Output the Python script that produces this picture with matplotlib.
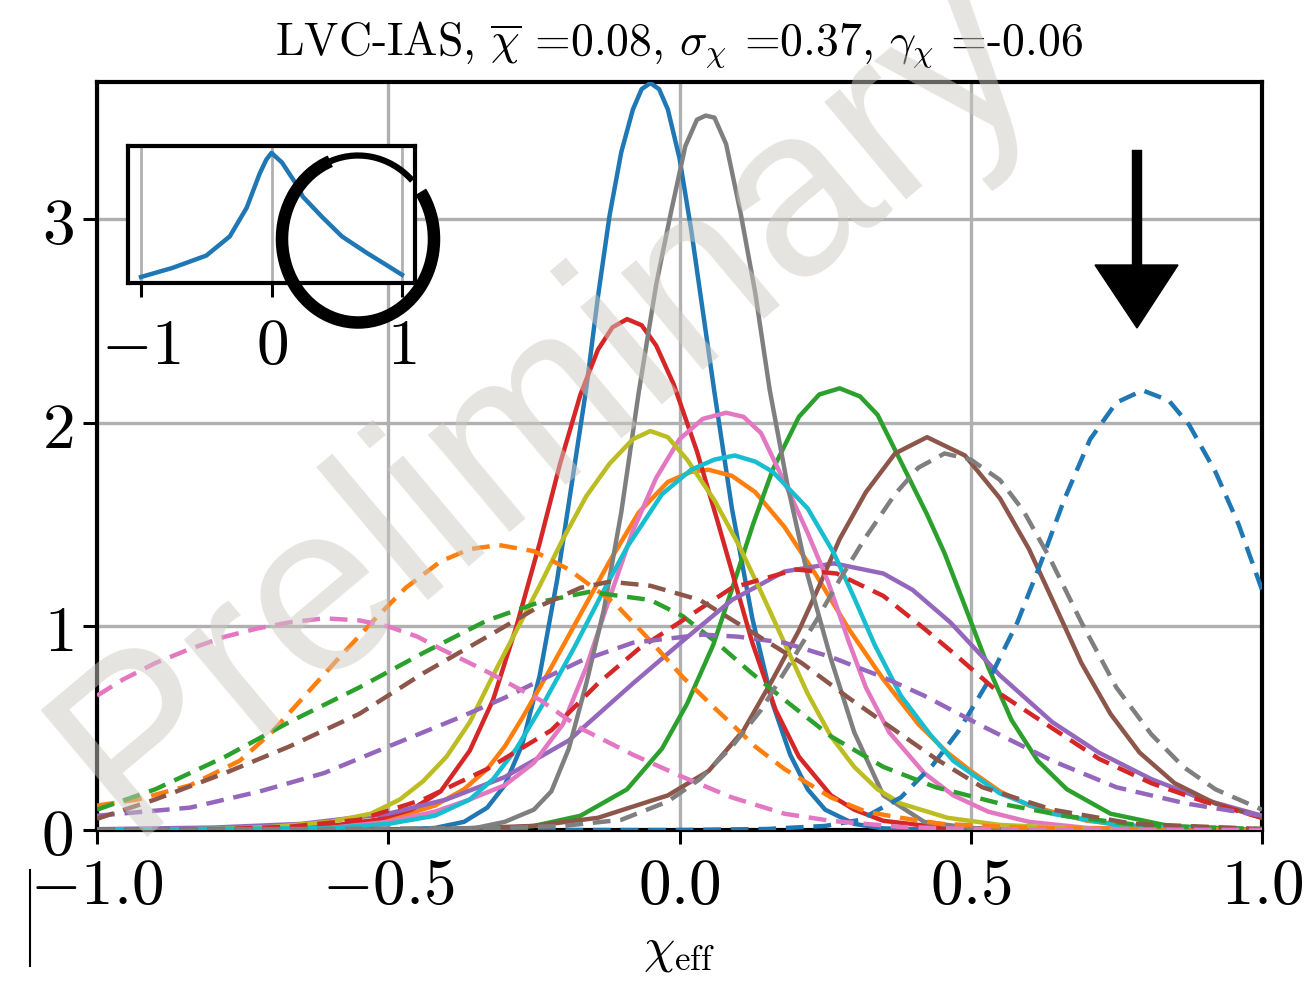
import numpy as np
import matplotlib
matplotlib.use('Agg')
import matplotlib.pyplot as plt
from matplotlib.patches import Arc, Polygon
from matplotlib.lines import Line2D

matplotlib.rcParams['mathtext.fontset'] = 'cm'

W, H = 1310, 986

# ---- curves: (chi_eff, density) ----
blue_solid = [(-1.0, 0.0), (-0.5, 0.0), (-0.42, 0.01), (-0.37, 0.04), (-0.33, 0.11), (-0.3, 0.22),
              (-0.27, 0.42), (-0.24, 0.76), (-0.21, 1.23), (-0.185, 1.7), (-0.16, 2.17), (-0.14, 2.62),
              (-0.12, 3.02), (-0.1, 3.33), (-0.08, 3.54), (-0.065, 3.64), (-0.05, 3.67), (-0.035, 3.64),
              (-0.02, 3.54), (0.0, 3.3), (0.02, 2.95), (0.04, 2.55), (0.06, 2.15), (0.09, 1.58),
              (0.125, 1.04), (0.16, 0.62), (0.19, 0.37), (0.22, 0.2), (0.25, 0.1), (0.3, 0.03),
              (0.35, 0.008), (0.45, 0.0), (1.0, 0.0)]
orange_solid = [(-1.0, 0.0), (-0.7, 0.004), (-0.6, 0.015), (-0.5, 0.05), (-0.42, 0.12), (-0.37, 0.2),
                (-0.33, 0.3), (-0.3, 0.41), (-0.27, 0.55), (-0.22, 0.8), (-0.17, 1.06), (-0.12, 1.32),
                (-0.07, 1.56), (-0.02, 1.71), (0.02, 1.76), (0.05, 1.77), (0.09, 1.74), (0.13, 1.66),
                (0.18, 1.49), (0.235, 1.25), (0.29, 0.99), (0.35, 0.74), (0.41, 0.52), (0.46, 0.38),
                (0.5, 0.29), (0.55, 0.19), (0.6, 0.12), (0.7, 0.045), (0.8, 0.015), (1.0, 0.0)]
green_solid = [(-1.0, 0.0), (-0.4, 0.003), (-0.3, 0.01), (-0.25, 0.02), (-0.17, 0.07), (-0.09, 0.2),
               (-0.03, 0.4), (0.013, 0.62), (0.058, 0.91), (0.092, 1.2), (0.126, 1.5), (0.16, 1.77),
               (0.205, 2.03), (0.24, 2.14), (0.275, 2.17), (0.31, 2.13), (0.34, 2.04), (0.38, 1.81),
               (0.425, 1.55), (0.455, 1.36), (0.49, 1.1), (0.53, 0.8), (0.57, 0.54), (0.615, 0.34),
               (0.665, 0.2), (0.74, 0.08), (0.84, 0.02), (1.0, 0.0)]
red_solid = [(-1.0, 0.0), (-0.7, 0.005), (-0.6, 0.02), (-0.52, 0.05), (-0.46, 0.1), (-0.41, 0.19),
             (-0.36, 0.39), (-0.32, 0.64), (-0.28, 1.0), (-0.24, 1.41), (-0.205, 1.8), (-0.17, 2.14),
             (-0.14, 2.36), (-0.115, 2.47), (-0.09, 2.51), (-0.065, 2.48), (-0.04, 2.38), (-0.01, 2.19),
             (0.03, 1.86), (0.065, 1.52), (0.09, 1.27), (0.125, 0.92), (0.165, 0.59), (0.205, 0.36),
             (0.26, 0.17), (0.3, 0.1), (0.35, 0.045), (0.45, 0.012), (0.6, 0.002), (1.0, 0.0)]
purple_solid = [(-1.0, 0.004), (-0.8, 0.012), (-0.65, 0.03), (-0.5, 0.08), (-0.4, 0.15), (-0.3, 0.26),
                (-0.19, 0.44), (-0.08, 0.72), (0.006, 0.93), (0.09, 1.13), (0.18, 1.27), (0.265, 1.31),
                (0.35, 1.26), (0.4, 1.18), (0.465, 1.02), (0.55, 0.76), (0.64, 0.53), (0.72, 0.38),
                (0.81, 0.25), (0.9, 0.15), (1.0, 0.07)]
brown_solid = [(-1.0, 0.0), (-0.4, 0.005), (-0.25, 0.02), (-0.14, 0.06), (-0.02, 0.17), (0.05, 0.29),
               (0.11, 0.49), (0.16, 0.74), (0.205, 0.98), (0.24, 1.2), (0.275, 1.43), (0.32, 1.66),
               (0.37, 1.85), (0.425, 1.93), (0.49, 1.84), (0.55, 1.63), (0.6, 1.38), (0.65, 1.07),
               (0.69, 0.82), (0.74, 0.57), (0.79, 0.38), (0.85, 0.23), (0.92, 0.13), (1.0, 0.06)]
pink_solid = [(-1.0, 0.0), (-0.7, 0.003), (-0.6, 0.01), (-0.5, 0.04), (-0.42, 0.09), (-0.36, 0.15),
              (-0.3, 0.22), (-0.25, 0.33), (-0.2, 0.52), (-0.16, 0.8), (-0.12, 1.14), (-0.08, 1.47),
              (-0.04, 1.73), (0.0, 1.92), (0.04, 2.02), (0.08, 2.05), (0.11, 2.03), (0.14, 1.95),
              (0.18, 1.71), (0.22, 1.46), (0.255, 1.22), (0.29, 0.93), (0.32, 0.7), (0.36, 0.48),
              (0.42, 0.28), (0.47, 0.17), (0.53, 0.09), (0.6, 0.04), (0.7, 0.01), (1.0, 0.0)]
gray_solid = [(-1.0, 0.0), (-0.45, 0.0), (-0.35, 0.01), (-0.3, 0.04), (-0.25, 0.1), (-0.22, 0.19),
              (-0.19, 0.4), (-0.16, 0.72), (-0.13, 1.08), (-0.1, 1.56), (-0.07, 2.15), (-0.04, 2.68),
              (-0.015, 3.03), (0.01, 3.36), (0.03, 3.49), (0.045, 3.51), (0.06, 3.5), (0.08, 3.37),
              (0.105, 3.03), (0.13, 2.64), (0.155, 2.16), (0.185, 1.7), (0.22, 1.25), (0.26, 0.84),
              (0.3, 0.48), (0.35, 0.17), (0.42, 0.04), (0.5, 0.01), (0.6, 0.0), (1.0, 0.0)]
olive_solid = [(-1.0, 0.0), (-0.8, 0.005), (-0.7, 0.015), (-0.6, 0.04), (-0.53, 0.08), (-0.48, 0.15),
               (-0.44, 0.24), (-0.4, 0.36), (-0.36, 0.53), (-0.32, 0.76), (-0.28, 0.98), (-0.24, 1.2),
               (-0.2, 1.43), (-0.16, 1.64), (-0.12, 1.8), (-0.08, 1.92), (-0.05, 1.96), (-0.02, 1.93),
               (0.013, 1.82), (0.06, 1.62), (0.1, 1.41), (0.14, 1.17), (0.18, 0.92), (0.22, 0.67),
               (0.26, 0.46), (0.3, 0.31), (0.34, 0.2), (0.38, 0.13), (0.46, 0.06), (0.55, 0.025),
               (0.7, 0.005), (1.0, 0.0)]
cyan_solid = [(-1.0, 0.0), (-0.6, 0.01), (-0.5, 0.03), (-0.42, 0.07), (-0.36, 0.15), (-0.32, 0.25),
              (-0.28, 0.4), (-0.23, 0.64), (-0.18, 0.9), (-0.135, 1.15), (-0.09, 1.39), (-0.03, 1.65),
              (0.02, 1.77), (0.06, 1.82), (0.095, 1.84), (0.13, 1.81), (0.16, 1.76), (0.22, 1.58),
              (0.265, 1.36), (0.3, 1.14), (0.335, 0.91), (0.38, 0.66), (0.43, 0.47), (0.47, 0.34),
              (0.55, 0.18), (0.64, 0.08), (0.75, 0.025), (0.9, 0.005), (1.0, 0.0)]

blue_dashed = [(-1.0, 0.0), (0.0, 0.0), (0.15, 0.005), (0.25, 0.02), (0.31, 0.05), (0.38, 0.16),
               (0.435, 0.32), (0.48, 0.49), (0.53, 0.73), (0.58, 1.02), (0.62, 1.31), (0.66, 1.62),
               (0.705, 1.92), (0.75, 2.1), (0.795, 2.16), (0.84, 2.11), (0.875, 1.99), (0.92, 1.76),
               (0.96, 1.5), (1.0, 1.18)]
orange_dashed = [(-1.0, 0.12), (-0.93, 0.15), (-0.84, 0.22), (-0.755, 0.34), (-0.7, 0.48), (-0.64, 0.67),
                 (-0.58, 0.86), (-0.525, 1.03), (-0.47, 1.19), (-0.41, 1.32), (-0.36, 1.38), (-0.31, 1.4),
                 (-0.25, 1.37), (-0.19, 1.28), (-0.11, 1.11), (-0.05, 0.93), (0.006, 0.75), (0.06, 0.6),
                 (0.09, 0.52), (0.13, 0.41), (0.18, 0.3), (0.26, 0.16), (0.32, 0.09), (0.38, 0.06),
                 (0.45, 0.03), (0.6, 0.01), (1.0, 0.0)]
green_dashed = [(-1.0, 0.1), (-0.9, 0.2), (-0.78, 0.36), (-0.67, 0.53), (-0.55, 0.7), (-0.44, 0.87),
                (-0.33, 1.03), (-0.24, 1.12), (-0.155, 1.17), (-0.05, 1.13), (0.006, 1.05), (0.064, 0.92),
                (0.12, 0.78), (0.18, 0.64), (0.26, 0.46), (0.35, 0.31), (0.44, 0.21), (0.55, 0.13),
                (0.66, 0.07), (0.8, 0.02), (1.0, 0.005)]
red_dashed = [(-1.0, 0.0), (-0.8, 0.003), (-0.67, 0.016), (-0.55, 0.05), (-0.44, 0.15), (-0.33, 0.3),
              (-0.22, 0.49), (-0.14, 0.72), (-0.07, 0.89), (0.0, 1.02), (0.09, 1.19), (0.2, 1.28),
              (0.27, 1.26), (0.35, 1.15), (0.42, 0.99), (0.47, 0.87), (0.55, 0.67), (0.64, 0.5),
              (0.72, 0.35), (0.81, 0.23), (0.9, 0.14), (1.0, 0.06)]
purple_dashed = [(-1.0, 0.07), (-0.84, 0.11), (-0.72, 0.19), (-0.61, 0.28), (-0.5, 0.41), (-0.38, 0.55),
                 (-0.3, 0.65), (-0.25, 0.72), (-0.17, 0.83), (-0.08, 0.92), (0.04, 0.96), (0.1, 0.95),
                 (0.18, 0.92), (0.26, 0.85), (0.35, 0.75), (0.42, 0.66), (0.52, 0.51), (0.64, 0.34),
                 (0.75, 0.21), (0.87, 0.13), (1.0, 0.07)]
brown_dashed = [(-1.0, 0.055), (-0.9, 0.15), (-0.78, 0.28), (-0.67, 0.41), (-0.55, 0.57), (-0.44, 0.77),
                (-0.33, 0.95), (-0.24, 1.1), (-0.17, 1.19), (-0.12, 1.22), (-0.05, 1.2), (0.035, 1.13),
                (0.12, 0.98), (0.21, 0.82), (0.29, 0.65), (0.37, 0.49), (0.44, 0.35), (0.52, 0.21),
                (0.64, 0.1), (0.78, 0.03), (1.0, 0.005)]
pink_dashed = [(-1.0, 0.66), (-0.955, 0.74), (-0.9, 0.82), (-0.84, 0.89), (-0.78, 0.95), (-0.725, 0.99),
               (-0.67, 1.02), (-0.61, 1.04), (-0.55, 1.03), (-0.5, 1.0), (-0.45, 0.95), (-0.41, 0.89),
               (-0.36, 0.82), (-0.325, 0.77), (-0.28, 0.7), (-0.24, 0.64), (-0.17, 0.5), (-0.08, 0.37),
               (0.006, 0.26), (0.09, 0.16), (0.18, 0.08), (0.26, 0.045), (0.38, 0.015), (0.5, 0.005),
               (1.0, 0.0)]
gray_dashed = [(-1.0, 0.0), (-0.3, 0.01), (-0.2, 0.02), (-0.1, 0.05), (-0.02, 0.14), (0.035, 0.25),
               (0.09, 0.41), (0.14, 0.59), (0.19, 0.82), (0.235, 1.03), (0.275, 1.23), (0.32, 1.44),
               (0.37, 1.65), (0.41, 1.78), (0.455, 1.85), (0.5, 1.82), (0.55, 1.72), (0.59, 1.57),
               (0.635, 1.34), (0.69, 1.02), (0.75, 0.7), (0.81, 0.47), (0.865, 0.31), (0.92, 0.2),
               (1.0, 0.1)]

solid_curves = [blue_solid, orange_solid, green_solid, red_solid, purple_solid,
                brown_solid, pink_solid, gray_solid, olive_solid, cyan_solid]
dashed_curves = [blue_dashed, orange_dashed, green_dashed, red_dashed,
                 purple_dashed, brown_dashed, pink_dashed, gray_dashed]

# inset (prior shape)
inset_x = [-1.0, -0.76, -0.5, -0.32, -0.19, -0.09, -0.04, 0.0, 0.08, 0.19, 0.24, 0.39, 0.54, 0.73, 0.9, 1.0]
inset_y = [0.044, 0.11, 0.2, 0.34, 0.55, 0.8, 0.9, 0.95, 0.88, 0.72, 0.63, 0.48, 0.34, 0.22, 0.12, 0.06]

xticks = [-1.0, -0.5, 0.0, 0.5, 1.0]
yticks = [0, 1, 2, 3]
inset_ticks = [-1, 0, 1]
title = r'LVC-IAS, $\overline{\chi}$ =0.08, $\sigma_\chi$ =0.37, $\gamma_\chi$ =-0.06'

colors = plt.rcParams['axes.prop_cycle'].by_key()['color']

fig = plt.figure(figsize=(W/100, H/100), dpi=100)
ax = fig.add_axes([97/W, 1-830/H, (1262-97)/W, (830-82)/H])

for i, c in enumerate(solid_curves):
    d = np.array(c)
    ax.plot(d[:, 0], d[:, 1], color=colors[i % 10], lw=3.2, zorder=3)
for i, c in enumerate(dashed_curves):
    d = np.array(c)
    ax.plot(d[:, 0], d[:, 1], color=colors[i % 10], lw=3.2, ls='--', dashes=(4.0, 2.2), zorder=3)

ax.set_xlim(-1, 1)
ax.set_ylim(0, 3.675)
ax.set_xticks(xticks)
ax.set_xticklabels([r'$%.1f$' % v for v in xticks])
ax.set_yticks(yticks)
ax.set_yticklabels([r'$%d$' % v for v in yticks])
ax.grid(True, color='#b0b0b0', lw=2.4, zorder=0)
ax.set_axisbelow(True)
for s in ax.spines.values():
    s.set_linewidth(3.0)
ax.tick_params(direction='out', length=10, width=2.2, labelsize=47, pad=7)
ax.set_xlabel(r'$\chi_{\rm eff}$', fontsize=36, labelpad=6)
ax.set_title(title, fontsize=33, family='cmr10', pad=20)

##inset
axi = fig.add_axes([128/W, 1-283/H, (415-128)/W, (283-146)/H])
axi.plot(inset_x, inset_y, color=colors[0], lw=3.2)
axi.set_xlim(-1.1, 1.1)
axi.set_ylim(0, 1)
axi.set_yticks([])
axi.set_xticks(inset_ticks)
axi.set_xticklabels([r'$%d$' % v for v in inset_ticks])
axi.grid(True, axis='x', color='#b0b0b0', lw=2.0)
for s in axi.spines.values():
    s.set_linewidth(3.0)
axi.tick_params(direction='out', length=10, width=2.2, labelsize=47, pad=12)

# watermark
fig.text(545/W, 1-405/H, 'Preliminary', fontsize=172, family='Liberation Sans',
         color='#cdc9c1', alpha=0.5, rotation=40, ha='center', va='center', zorder=10)

# hand drawn circle and arrow
def fx(px): return px/W
def fy(py): return 1-py/H

fig.add_artist(Arc((fx(358), fy(239)), 152/W, 167/H, theta1=105, theta2=405,
                   transform=fig.transFigure, color='black', lw=9, zorder=20))
fig.add_artist(Arc((fx(358), fy(239)), 152/W, 167/H, theta1=55, theta2=108,
                   transform=fig.transFigure, color='black', lw=4.5, zorder=20))
fig.add_artist(Line2D([fx(1137), fx(1137)], [fy(155), fy(270)], transform=fig.transFigure,
                      color='black', lw=7.5, zorder=20))
fig.add_artist(Polygon([(fx(1095), fy(265)), (fx(1178), fy(265)), (fx(1137), fy(328))],
                       closed=True, transform=fig.transFigure, color='black', zorder=20))
fig.add_artist(Line2D([fx(30), fx(30)], [fy(870), fy(966)], transform=fig.transFigure,
                      color='black', lw=1.5))

fig.savefig('out.png', dpi=100)
